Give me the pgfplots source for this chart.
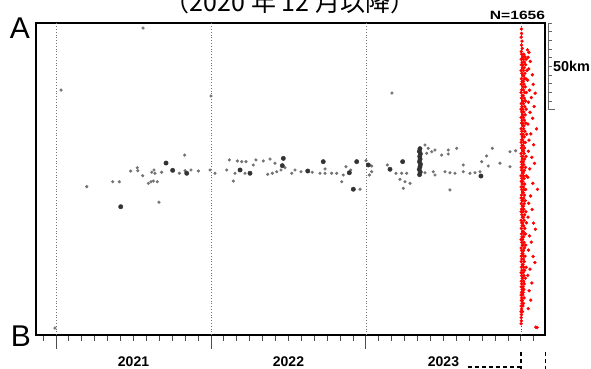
\documentclass[border=0pt]{standalone}
\usepackage{fontspec}
\setmainfont{Liberation Sans}
\newfontfamily\jpfont{Noto Sans CJK JP}
\usepackage{graphicx}
\usepackage{pgfplots}
\pgfplotsset{compat=1.18}
\usepackage{pgfplotstable}

% x: months since 2021-01-01, y: km from B
\pgfplotstableread{
m km
0.39 141.3
-0.08 4.0
6.74 177.1
12.0 137.9
26.01 139.6
2.38 85.6
4.39 88.4
4.90 88.4
5.78 94.6
6.29 96.5
6.33 94.8
6.71 91.9
7.15 87.5
7.35 88.4
7.53 88.8
7.84 88.4
7.41 93.9
7.59 95.2
7.66 93.3
8.18 93.9
7.97 76.6
9.55 93.3
9.96 103.8
9.99 94.8
10.45 95.2
11.02 94.6
11.92 95.2
12.31 93.3
13.22 95.2
13.42 101.0
13.73 88.8
13.86 93.3
14.04 100.4
14.38 100.0
14.71 100.0
14.63 93.3
15.27 98.1
15.48 101.0
16.05 100.4
16.39 92.7
16.57 101.5
16.75 93.3
16.95 99.1
17.09 94.2
17.42 95.2
17.73 96.5
18.25 93.3
18.50 95.2
18.97 94.2
19.84 93.9
20.44 93.3
20.83 95.8
20.83 93.3
21.34 93.3
21.73 93.3
22.12 88.4
22.24 92.3
22.45 97.1
22.82 95.2
23.54 84.1
24.00 100.6
24.44 97.5
24.26 92.3
24.44 94.2
25.65 98.1
26.32 93.3
26.63 89.8
26.76 93.3
27.02 88.4
27.15 93.3
27.41 87.5
26.89 84.6
28.57 109.6
28.82 107.7
28.70 104.8
29.09 105.7
29.34 106.7
29.86 103.8
30.37 106.7
30.37 104.4
31.02 107.7
28.57 93.6
29.21 94.2
29.34 92.3
30.12 94.2
30.50 93.6
30.89 93.3
30.50 83.7
31.53 98.1
31.53 94.2
32.05 93.3
32.44 93.6
32.83 94.2
32.96 100.0
33.34 103.3
33.47 97.5
33.78 107.7
34.37 99.1
35.15 105.7
35.15 97.1
35.59 106.3
}\blacksmall

\pgfplotstableread{
m km
5.01 74.0
8.52 99.2
9.03 95.0
10.12 93.3
14.25 95.2
15.02 93.3
17.60 101.9
17.52 97.7
19.49 94.6
20.69 100.0
22.71 93.6
23.02 84.1
23.28 100.0
24.18 98.1
25.86 95.6
26.84 100.0
32.90 91.7
28.15 92.5
28.20 94.0
28.12 95.5
28.18 97.0
28.22 98.5
28.14 100.0
28.19 101.5
28.16 103.0
28.21 104.5
28.13 106.0
28.18 107.5
}\blackbig

\pgfplotstableread{
m km
36.03 176.5
36.05 174.0
36.02 171.8
36.08 169.5
36.04 167.2
36.10 165.4
36.03 163.5
36.50 164.5
36.62 163.0
36.05 162.0
36.22 162.0
36.12 160.5
36.31 160.5
36.02 159.1
36.18 159.1
36.40 159.1
36.09 157.4
36.27 157.4
36.04 155.9
36.15 155.9
36.36 155.9
36.11 154.2
36.24 154.2
36.01 152.6
36.19 152.6
36.45 152.6
36.07 151.0
36.30 151.0
36.13 149.5
36.21 149.5
36.03 147.8
36.26 147.8
36.38 147.8
36.09 146.3
36.17 146.3
36.02 144.7
36.23 144.7
36.14 143.1
36.33 143.1
36.06 141.4
36.20 141.4
36.01 139.9
36.28 139.9
36.42 139.9
36.10 138.2
36.16 138.2
36.04 136.7
36.25 136.7
36.12 135.0
36.35 135.0
36.03 133.5
36.19 133.5
36.08 131.8
36.29 131.8
36.01 130.3
36.14 130.3
36.40 130.3
36.06 128.7
36.22 128.7
36.11 127.0
36.32 127.0
36.02 125.5
36.18 125.5
36.09 123.9
36.26 123.9
36.04 122.2
36.15 122.2
36.37 122.2
36.13 120.7
36.23 120.7
36.01 119.0
36.20 119.0
36.07 117.5
36.30 117.5
36.03 115.8
36.17 115.8
36.44 115.8
36.10 114.3
36.25 114.3
36.05 112.6
36.13 112.6
36.02 111.1
36.21 111.1
36.34 111.1
36.08 109.4
36.16 109.4
36.04 107.9
36.27 107.9
36.12 106.2
36.19 106.2
36.01 104.7
36.24 104.7
36.06 103.1
36.15 103.1
36.39 103.1
36.10 101.5
36.28 101.5
36.03 99.9
36.18 99.9
36.08 98.3
36.22 98.3
36.02 96.7
36.13 96.7
36.35 96.7
36.05 95.0
36.26 95.0
36.11 93.5
36.17 93.5
36.01 91.8
36.20 91.8
36.41 91.8
36.07 90.3
36.24 90.3
36.03 88.6
36.14 88.6
36.09 87.1
36.29 87.1
36.02 85.4
36.19 85.4
36.06 83.9
36.23 83.9
36.36 83.9
36.12 82.2
36.16 82.2
36.04 80.7
36.27 80.7
36.01 79.0
36.21 79.0
36.08 77.5
36.13 77.5
36.33 77.5
36.03 75.8
36.25 75.8
36.10 74.3
36.18 74.3
36.05 72.6
36.22 72.6
36.02 71.1
36.15 71.1
36.38 71.1
36.07 69.4
36.28 69.4
36.11 67.9
36.19 67.9
36.01 66.2
36.24 66.2
36.06 64.7
36.14 64.7
36.42 64.7
36.09 63.0
36.21 63.0
36.03 61.5
36.30 61.5
36.12 59.8
36.17 59.8
36.04 58.3
36.26 58.3
36.35 58.3
36.08 56.6
36.20 56.6
36.02 55.1
36.13 55.1
36.06 53.4
36.23 53.4
36.10 51.9
36.16 51.9
36.37 51.9
36.01 50.2
36.27 50.2
36.05 48.7
36.19 48.7
36.09 47.0
36.14 47.0
36.03 45.5
36.22 45.5
36.31 45.5
36.07 43.8
36.18 43.8
36.02 42.3
36.25 42.3
36.11 40.6
36.15 40.6
36.04 39.1
36.21 39.1
36.40 39.1
36.08 37.4
36.28 37.4
36.01 35.9
36.17 35.9
36.06 34.2
36.23 34.2
36.10 32.7
36.13 32.7
36.34 32.7
36.03 31.0
36.20 31.0
36.07 29.5
36.26 29.5
36.02 27.8
36.16 27.8
36.09 26.3
36.22 26.3
36.04 24.6
36.18 24.6
36.01 23.1
36.14 23.1
36.06 21.4
36.24 21.4
36.03 19.9
36.11 19.9
36.08 18.2
36.19 18.2
36.02 16.7
36.15 16.7
36.05 15.0
36.01 13.5
36.12 13.5
36.04 11.8
36.02 10.0
36.03 8.2
36.01 6.5
37.15 4.5
37.25 4.3
36.55 160.2
36.72 157.8
36.60 153.5
36.88 150.1
36.52 147.0
36.95 144.6
36.66 141.2
37.10 139.5
36.80 137.0
36.58 134.3
37.02 131.8
36.70 128.5
36.90 125.0
36.54 121.7
37.20 118.9
36.76 116.0
36.62 112.4
36.98 109.8
36.57 106.0
36.84 102.5
37.05 99.0
36.68 95.8
36.53 91.0
36.92 87.5
37.28 84.0
36.74 80.2
36.60 76.0
36.86 72.4
36.55 68.0
36.97 64.5
37.12 61.0
36.66 57.2
36.80 53.6
36.58 49.0
36.94 45.3
37.08 41.8
36.70 38.0
36.53 34.4
36.85 30.0
36.63 25.5
36.76 20.1
36.56 15.2
}\redpts

\begin{document}
\begin{tikzpicture}
\useasboundingbox (0,0) rectangle (295.5pt,184.5pt);
\begin{axis}[
  at={(18pt,17pt)}, anchor=south west,
  scale only axis, width=254.5pt, height=156pt,
  xmin=-1.55, xmax=37.86, ymin=0, ymax=180,
  axis line style={line width=1.4pt},
  ytick=\empty,
  xtick={0,12,24}, xticklabels={},
  minor xtick={-1,0,...,37},
  xtick pos=bottom, tick align=outside,
  major tick length=7pt, minor tick length=3pt,
  tick style={black!70, line width=0.5pt},
  extra x ticks={6,18,30},
  extra x tick labels={\textbf{2021},\textbf{2022},\textbf{2023}},
  extra x tick style={major tick length=0pt,
    tick label style={font=\fontsize{7}{8}\selectfont, yshift=-7.5pt}},
  clip=false,
]
\draw[densely dotted, black!55, line width=0.4pt] (axis cs:0,0) -- (axis cs:0,180);
\draw[densely dotted, black!55, line width=0.4pt] (axis cs:12,0) -- (axis cs:12,180);
\draw[densely dotted, black!55, line width=0.4pt] (axis cs:24,0) -- (axis cs:24,180);
\draw[densely dotted, blue!40!gray, line width=0.4pt] (axis cs:36,0) -- (axis cs:36,180);
\addplot[only marks, color=black!55, mark=*, mark size=0.7pt, mark options={draw=black!55, fill=black!55, line width=0.2pt}] table {\blacksmall};
\addplot[only marks, color=black!80, mark=*, mark size=1.1pt, mark options={draw=black!80, fill=black!80, line width=0.2pt}] table {\blackbig};
\addplot[only marks, color=red, mark=*, mark size=0.75pt, mark options={draw=red, fill=red, line width=0.2pt}] table {\redpts};
\end{axis}
% scale bar 50 km
\draw[black!60, line width=0.5pt] (274.2pt,173pt) -- (274.2pt,129.7pt);
\foreach \i in {0,...,9} {
  \draw[black!60, line width=0.4pt] (274.2pt,{173pt-\i*4.33pt}) -- ++(1.8pt,0);
}
\draw[black!60, line width=0.5pt] (274.2pt,129.7pt) -- ++(3.5pt,0);
\node[anchor=west, inner sep=0pt, font=\fontsize{7.2}{8}\selectfont\bfseries] at (276.3pt,151.5pt) {50km};
\node[inner sep=0pt, font=\fontsize{6}{7}\selectfont\bfseries] at (258.75pt,177pt) {\scalebox{1.3}[1]{N=1656}};
% endpoint labels
\node[inner sep=0pt, font=\fontsize{15}{16}\selectfont] at (10pt,170.5pt) {A};
\node[inner sep=0pt, font=\fontsize{15}{16}\selectfont] at (10.5pt,16.5pt) {B};
% title (cut off at top, as in the reference)
\node[anchor=base, inner sep=0pt, font=\jpfont\fontsize{12.5}{14}\selectfont] at (145pt,178.5pt) {（2020 年 12 月以降）};
% dashed callout below the axis
\draw[black, line width=0.8pt, dash pattern=on 2pt off 1.5pt] (260.5pt,8.5pt) -- (260.5pt,0pt);
\draw[black, line width=0.8pt, dash pattern=on 2pt off 1.5pt] (272.85pt,8.5pt) -- (272.85pt,0pt);
\draw[black, line width=0.8pt, dash pattern=on 2pt off 1.5pt] (234pt,1pt) -- (260.5pt,1pt);
\end{tikzpicture}
\end{document}
